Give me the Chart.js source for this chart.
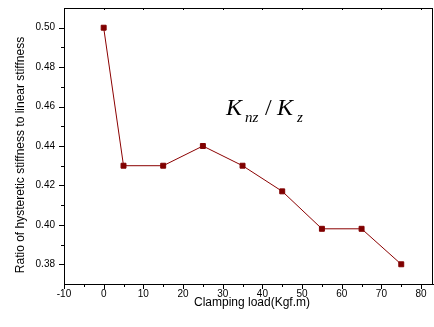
<!DOCTYPE html>
<html>
<head>
<meta charset="utf-8">
<script src="https://cdn.jsdelivr.net/npm/chart.js@4.4.0/dist/chart.umd.min.js"></script>
<style>
html,body{margin:0;padding:0;background:#fff;}
#wrap{width:434px;height:327px;position:relative;}
</style>
</head>
<body>
<div id="wrap"><canvas id="c" width="434" height="327"></canvas></div>
<script>
const clampingLoad = [0, 5, 15, 25, 35, 45, 55, 65, 75];
const stiffnessRatio = [0.500, 0.430, 0.430, 0.440, 0.430, 0.417, 0.398, 0.398, 0.380];
const xTickValues = [-10, 0, 10, 20, 30, 40, 50, 60, 70, 80];
const yTickValues = [0.38, 0.40, 0.42, 0.44, 0.46, 0.48, 0.50];
const xTitle = 'Clamping load(Kgf.m)';
const yTitle = 'Ratio of hysteretic stiffness to linear stiffness';

const tickFont = {family: 'Liberation Sans, Arial, sans-serif', size: 10};

const framePlugin = {
  id: 'frame',
  afterDraw(chart) {
    const {ctx, chartArea: a, scales: {x, y}} = chart;
    ctx.save();
    ctx.strokeStyle = '#000';
    ctx.lineWidth = 1;
    ctx.beginPath();
    ctx.moveTo(a.left, a.top + 0.5); ctx.lineTo(a.right, a.top + 0.5);
    ctx.moveTo(a.right - 0.5, a.top); ctx.lineTo(a.right - 0.5, a.bottom);
    for (let i = 0; i < xTickValues.length; i++) {
      const v = xTickValues[i];
      const px = Math.round(x.getPixelForValue(v)) + 0.5;
      ctx.moveTo(px, a.bottom); ctx.lineTo(px, a.bottom + 5);
      ctx.moveTo(px, a.top); ctx.lineTo(px, a.top + 2);
      const m = v + 5;
      if (m < x.max) {
        const pm = Math.round(x.getPixelForValue(m)) + 0.5;
        ctx.moveTo(pm, a.bottom); ctx.lineTo(pm, a.bottom + 3);
        ctx.moveTo(pm, a.top); ctx.lineTo(pm, a.top + 1);
      }
    }
    for (let i = 0; i < yTickValues.length; i++) {
      const v = yTickValues[i];
      const py = Math.round(y.getPixelForValue(v)) + 0.5;
      ctx.moveTo(a.left, py); ctx.lineTo(a.left - 5, py);
      for (const m of [v - 0.01, v + 0.01]) {
        if (m > y.min && m < y.max) {
          const pm = Math.round(y.getPixelForValue(m)) + 0.5;
          ctx.moveTo(a.left, pm); ctx.lineTo(a.left - 3, pm);
        }
      }
    }
    ctx.stroke();

    ctx.fillStyle = '#000';
    ctx.font = '12px "Liberation Sans", Arial, sans-serif';
    ctx.textAlign = 'center';
    ctx.textBaseline = 'middle';
    ctx.fillText(xTitle, 252, 303);
    ctx.save();
    ctx.translate(21, 155);
    ctx.rotate(-Math.PI / 2);
    ctx.fillText(yTitle, 0, 0);
    ctx.restore();

    ctx.textAlign = 'left';
    ctx.textBaseline = 'alphabetic';
    ctx.font = 'italic 24px "Liberation Serif", "Times New Roman", serif';
    ctx.fillText('K', 226, 115);
    ctx.font = 'italic 15px "Liberation Serif", "Times New Roman", serif';
    ctx.fillText('nz', 245, 122);
    ctx.font = '24px "Liberation Serif", "Times New Roman", serif';
    ctx.fillText('/', 265, 115);
    ctx.font = 'italic 24px "Liberation Serif", "Times New Roman", serif';
    ctx.fillText('K', 277, 115);
    ctx.font = 'italic 15px "Liberation Serif", "Times New Roman", serif';
    ctx.fillText('z', 297, 122);
    ctx.restore();
  }
};

new Chart(document.getElementById('c'), {
  type: 'line',
  data: {
    datasets: [{
      data: clampingLoad.map((v, i) => ({x: v, y: stiffnessRatio[i]})),
      borderColor: '#8b0000',
      backgroundColor: '#800000',
      pointBackgroundColor: '#800000',
      pointBorderColor: '#800000',
      borderWidth: 1,
      pointStyle: 'rect',
      pointRadius: 3.5,
      pointBorderWidth: 1,
      tension: 0,
      fill: false,
      clip: false
    }]
  },
  options: {
    responsive: false,
    animation: false,
    devicePixelRatio: 1,
    layout: {autoPadding: false, padding: {top: 8, right: 1, left: 0, bottom: 0}},
    plugins: {legend: {display: false}, tooltip: {enabled: false}},
    scales: {
      x: {
        type: 'linear',
        min: -10,
        max: 83,
        afterBuildTicks(s) { s.ticks = xTickValues.map(v => ({value: v})); },
        afterFit(s) { s.height = 43; s.paddingLeft = 0; s.paddingRight = 0; s.paddingTop = 0; s.paddingBottom = 0; },
        grid: {display: true, drawOnChartArea: false, drawTicks: false},
        border: {display: true, color: '#000', width: 1},
        ticks: {color: '#000', font: tickFont, padding: 4, maxRotation: 0, autoSkip: false,
                callback: v => String(v)},
        title: {display: false}
      },
      y: {
        type: 'linear',
        min: 0.37,
        max: 0.51,
        afterBuildTicks(s) { s.ticks = yTickValues.map(v => ({value: v})); },
        afterFit(s) { s.width = 64; s.paddingLeft = 0; s.paddingRight = 0; s.paddingTop = 0; s.paddingBottom = 0; },
        grid: {display: true, drawOnChartArea: false, drawTicks: false},
        border: {display: true, color: '#000', width: 1},
        ticks: {color: '#000', font: tickFont, padding: 9, autoSkip: false,
                callback: v => v.toFixed(2)},
        title: {display: false}
      }
    }
  },
  plugins: [framePlugin]
});
</script>
</body>
</html>
